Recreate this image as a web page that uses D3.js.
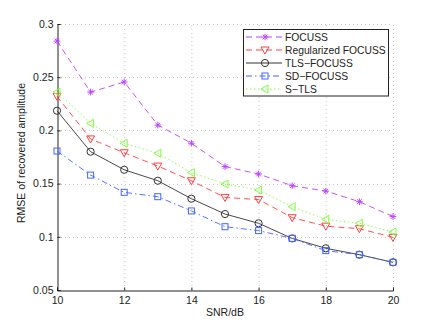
<!DOCTYPE html>
<html><head><meta charset="utf-8">
<script src="https://cdn.jsdelivr.net/npm/d3@7/dist/d3.min.js"></script>
<style>body{margin:0;background:#fff}svg{display:block}text{font-family:"Liberation Sans",Arial,sans-serif}</style>
</head><body><svg id="c" width="435" height="327"></svg>
<script>
const snr = [10,11,12,13,14,15,16,17,18,19,20];
const focuss =      [0.284,0.236,0.2455,0.205,0.188,0.166,0.159,0.148,0.143,0.133,0.119];
const regFocuss =   [0.232,0.192,0.179,0.1665,0.1527,0.137,0.135,0.118,0.110,0.1076,0.0995];
const tlsFocuss =   [0.2185,0.180,0.163,0.1527,0.1358,0.1214,0.1127,0.0985,0.0892,0.0832,0.076];
const sdFocuss =    [0.1806,0.158,0.1418,0.1377,0.1243,0.1095,0.1058,0.0985,0.087,0.0832,0.076];
const sTls =        [0.236,0.2067,0.1879,0.1785,0.1603,0.1496,0.144,0.1283,0.1164,0.1127,0.1045];
const seriesNames = ["FOCUSS","Regularized FOCUSS","TLS\u2212FOCUSS","SD\u2212FOCUSS","S\u2212TLS"];
const xTicks = [10,12,14,16,18,20];
const yTicks = [0.05,0.1,0.15,0.2,0.25,0.3];
const xLabel = "SNR/dB", yLabel = "RMSE of recovered amplitude";

const series = [
  {name:seriesNames[0], v:focuss, color:"#bf40ff", dash:"6,4", marker:"star"},
  {name:seriesNames[1], v:regFocuss, color:"#ff4040", dash:"6,4", marker:"tridown"},
  {name:seriesNames[2], v:tlsFocuss, color:"#333333", dash:null, marker:"circle"},
  {name:seriesNames[3], v:sdFocuss, color:"#4466ff", dash:"6,3,1.5,3", marker:"square"},
  {name:seriesNames[4], v:sTls, color:"#80ff40", dash:"1.5,2.5", marker:"trileft"}
];

const L=57, R=393, T=24, B=290;
const x = d3.scaleLinear().domain([10,20]).range([L,R]);
const y = d3.scaleLinear().domain([0.05,0.3]).range([B,T]);
const svg = d3.select("#c");

// grid
const grid = svg.append("g").attr("stroke","#c8c8c8").attr("stroke-width",1).attr("stroke-dasharray","1,3");
xTicks.forEach(t=>{ if(t!==10) grid.append("line").attr("x1",x(t)+0.5).attr("x2",x(t)+0.5).attr("y1",B).attr("y2",T); });
yTicks.forEach(t=>{ if(t!==0.05) grid.append("line").attr("y1",Math.round(y(t))+0.5).attr("y2",Math.round(y(t))+0.5).attr("x1",L).attr("x2",R); });

// axes
const xAxis = d3.axisBottom(x).tickValues(xTicks).tickSize(-3).tickPadding(6).tickFormat(d3.format("d"));
const yAxis = d3.axisLeft(y).tickValues(yTicks).tickSize(-3).tickPadding(4).tickFormat(d=>String(+d.toFixed(2)));
const gx = svg.append("g").attr("transform",`translate(0,${B+0.5})`).call(xAxis);
const gy = svg.append("g").attr("transform",`translate(${L+0.5},0)`).call(yAxis);
[gx,gy].forEach(g=>{
  g.select(".domain").attr("stroke","#222");
  g.selectAll(".tick line").attr("stroke","#222");
  g.selectAll("text").attr("font-size","10.5px").attr("fill","#222");
});
gx.selectAll("text").attr("dy","0.7em");

svg.append("text").attr("x",(L+R)/2).attr("y",316).attr("text-anchor","middle").attr("font-size","10.5px").attr("fill","#222").text(xLabel);
svg.append("text").attr("transform",`translate(25,${(T+B)/2-4}) rotate(-90)`).attr("text-anchor","middle").attr("font-size","10.5px").attr("fill","#222").text(yLabel);

function drawMarker(g, type, cx, cy, color){
  const s = 3.3;
  if(type==="star"){
    g.append("path").attr("d",`M${cx-s},${cy}L${cx+s},${cy}M${cx},${cy-s}L${cx},${cy+s}M${cx-s*0.7},${cy-s*0.7}L${cx+s*0.7},${cy+s*0.7}M${cx-s*0.7},${cy+s*0.7}L${cx+s*0.7},${cy-s*0.7}`)
      .attr("stroke",color).attr("stroke-width",1).attr("fill","none");
  } else if(type==="circle"){
    g.append("circle").attr("cx",cx).attr("cy",cy).attr("r",3.6).attr("stroke",color).attr("fill","none").attr("stroke-width",1);
  } else if(type==="square"){
    g.append("rect").attr("x",cx-3).attr("y",cy-3).attr("width",6).attr("height",6).attr("stroke",color).attr("fill","none").attr("stroke-width",1);
  } else if(type==="tridown"){
    g.append("path").attr("d",`M${cx-4},${cy-3}L${cx+4},${cy-3}L${cx},${cy+4}Z`).attr("stroke",color).attr("fill","none").attr("stroke-width",1);
  } else if(type==="trileft"){
    g.append("path").attr("d",`M${cx-4},${cy}L${cx+3},${cy-4}L${cx+3},${cy+4}Z`).attr("stroke",color).attr("fill","none").attr("stroke-width",1);
  }
}

const line = d3.line().x((d,i)=>x(snr[i])).y(d=>y(d));
series.forEach(s=>{
  const g = svg.append("g");
  g.append("path").attr("d",line(s.v)).attr("fill","none").attr("stroke",s.color).attr("stroke-width",0.9)
    .attr("stroke-dasharray",s.dash);
  s.v.forEach((v,i)=>drawMarker(g,s.marker,x(snr[i]),y(v),s.color));
});

// legend
const lg = svg.append("g");
lg.append("rect").attr("x",243.5).attr("y",29.5).attr("width",145).attr("height",66.5).attr("fill","#fff").attr("stroke","#222").attr("stroke-width",1);
series.forEach((s,i)=>{
  const yy = 37 + i*13;
  lg.append("line").attr("x1",246).attr("x2",282).attr("y1",yy).attr("y2",yy).attr("stroke",s.color).attr("stroke-width",1).attr("stroke-dasharray",s.dash);
  drawMarker(lg,s.marker,265,yy,s.color);
  lg.append("text").attr("x",285).attr("y",yy).attr("dy","0.35em").attr("font-size","10.3px").attr("fill","#222").text(s.name);
});
</script></body></html>
